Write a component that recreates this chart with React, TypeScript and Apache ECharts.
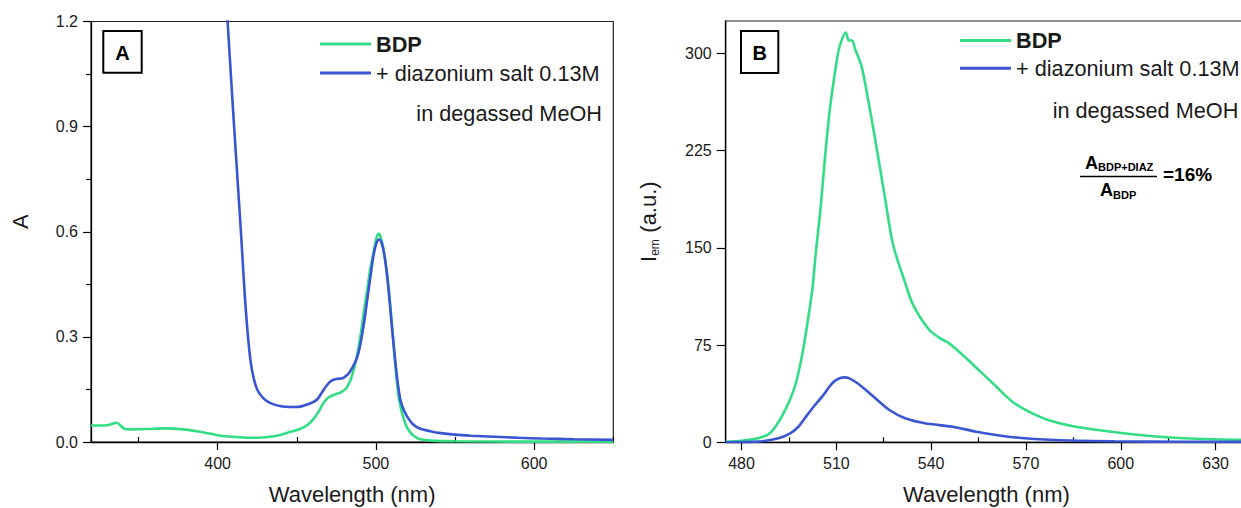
import { useEffect, useRef } from "react";
import * as echarts from "echarts";

// ---------- Panel A: absorbance ----------
const absWlBDP = [320, 326, 330, 333, 336, 338, 341, 345, 355, 367, 378, 388, 395, 402, 409, 420, 428, 433, 440, 446, 452, 457, 461, 464.4, 467, 470, 475, 478, 481, 483.5, 485.5, 488, 490.5, 492.5, 494.5, 496.5, 498.5, 500.5, 501.8, 503, 505, 507.6, 509.5, 511.5, 513, 514.7, 517, 519.4, 522, 524.7, 528, 535, 550, 600, 650];
const absBDP = [0.047, 0.047, 0.048, 0.051, 0.055, 0.05, 0.038, 0.036, 0.037, 0.039, 0.036, 0.03, 0.024, 0.018, 0.015, 0.012, 0.013, 0.015, 0.021, 0.029, 0.037, 0.049, 0.068, 0.091, 0.112, 0.127, 0.137, 0.142, 0.152, 0.172, 0.198, 0.245, 0.31, 0.375, 0.434, 0.495, 0.54, 0.585, 0.594, 0.585, 0.545, 0.46, 0.37, 0.263, 0.185, 0.12, 0.075, 0.044, 0.026, 0.015, 0.008, 0.004, 0.002, 0.001, 0.001];
const absWlDiaz = [403, 406.3, 410, 413, 415, 417, 419, 421, 423, 425, 427.5, 431, 435, 440, 446, 452, 456.5, 460, 463, 466, 469, 472, 475, 479, 481.5, 483.5, 485.5, 488, 490, 492.5, 494.5, 496.5, 498.4, 500.3, 502, 503.5, 505.5, 507.6, 509.5, 511.5, 513.5, 515.5, 518, 520.7, 523.6, 527, 531, 535, 540, 550, 560, 575, 590, 605, 625, 650];
const absDiaz = [1.45, 1.2, 0.93, 0.72, 0.58, 0.43, 0.31, 0.225, 0.178, 0.15, 0.132, 0.117, 0.108, 0.102, 0.1, 0.101, 0.107, 0.113, 0.122, 0.142, 0.162, 0.175, 0.18, 0.182, 0.19, 0.2, 0.215, 0.24, 0.275, 0.34, 0.405, 0.47, 0.53, 0.567, 0.578, 0.57, 0.53, 0.453, 0.36, 0.263, 0.18, 0.12, 0.088, 0.066, 0.05, 0.04, 0.034, 0.03, 0.026, 0.021, 0.018, 0.015, 0.012, 0.01, 0.008, 0.006];
const absXMajor = [400, 500, 600];
const absXMinor = [350, 450, 550, 650];

// ---------- Panel B: emission ----------
const emWlBDP = [475, 480, 484, 487, 489, 491, 493, 495, 497, 499, 501, 502.5, 503.5, 505, 506.5, 508, 510, 511, 513, 514, 515, 516, 518, 520, 522, 525.5, 528, 531.8, 534.3, 539.3, 543, 545.6, 550.6, 555.6, 560.6, 565.6, 570.6, 577, 585.7, 599.5, 614.5, 629.5, 640];
const emBDP = [0.3, 1.2, 2.5, 4.5, 7, 13, 21, 31, 44, 65, 94, 120, 146, 180, 222, 258, 292, 305, 316, 310, 310, 303, 290, 265, 238, 187, 152, 123, 106, 87, 80, 76.5, 66, 54.5, 43, 31.5, 24, 17.2, 12, 7.4, 3.9, 2.3, 1.8];
const emWlDiaz = [475, 485, 491.7, 495.4, 498, 500.4, 503, 505.5, 509.2, 512.6, 514, 516.7, 521.8, 526.8, 531.8, 538, 546.8, 554.3, 564.4, 579.4, 598, 620, 640];
const emDiaz = [0, 0.5, 3.1, 6.9, 12, 19.8, 28, 35.2, 46.7, 50.1, 49.5, 45.5, 35.2, 24.9, 18.5, 14.7, 12, 8.2, 4.3, 1.8, 0.8, 0.4, 0.3];
const emXMajor = [480, 510, 540, 570, 600, 630];
const emXMinor = [495, 525, 555, 585, 615];
const emYMajor = [0, 75, 150, 225, 300];
const emYMinor = [37.5, 112.5, 187.5, 262.5];

const seriesNames = ["BDP", "+ diazonium salt 0.13M"];

const GREEN = "#33dd85";
const BLUE = "#3a55d2";
const FONT = "Liberation Sans, Arial, Helvetica, sans-serif";
const TXT = "#1a1a1a";

const zip = (xs: number[], ys: number[]) => xs.map((x, i) => [x, ys[i]]);

export default function App() {
  const ref = useRef<HTMLDivElement>(null);
  useEffect(() => {
    const chart = echarts.init(ref.current!, null, { renderer: "svg" });

    const axisLine = { show: true, onZero: false, lineStyle: { color: "#000", width: 1.3 } };
    const tickStyle = { color: "#000", width: 1.2 };
    const labelStyle = { fontSize: 16, color: TXT, fontFamily: FONT };

    const mainX = (grid: number, min: number, max: number, major: number[]) => ({
      type: "value", gridIndex: grid, min, max,
      axisLine,
      axisTick: { show: true, customValues: major, length: 8, lineStyle: tickStyle },
      axisLabel: { ...labelStyle, customValues: major, margin: 13 },
      splitLine: { show: false },
      name: "Wavelength (nm)", nameLocation: "middle", nameGap: 41,
      nameTextStyle: { fontSize: 22, color: TXT, fontFamily: FONT },
    });
    const minorX = (grid: number, min: number, max: number, minor: number[]) => ({
      type: "value", gridIndex: grid, min, max,
      axisLine: { show: false },
      axisTick: { show: true, customValues: minor, length: 5, lineStyle: tickStyle },
      axisLabel: { show: false },
      splitLine: { show: false },
    });

    const legendText = {
      color: TXT,
      rich: {
        b: { fontSize: 21.7, fontWeight: "bold", lineHeight: 21, fontFamily: FONT, color: TXT },
        n: { fontSize: 21.7, lineHeight: 21, fontFamily: FONT, color: TXT },
      },
    };
    const fmt = (n: string) => (n === "BDP" ? "{b|" + n + "}" : "{n|" + n + "}");
    const lineSeries = (name: string, xi: number, yi: number, xs: number[], ys: number[], color: string) => ({
      name, type: "line", xAxisIndex: xi, yAxisIndex: yi,
      data: zip(xs, ys), showSymbol: false, smooth: 0.3,
      lineStyle: { color, width: 2.6 }, itemStyle: { color }, clip: true,
    });

    const option: any = {
      animation: false,
      backgroundColor: "#fff",
      textStyle: { fontFamily: FONT },
      grid: [
        { left: 91, top: 21.5, width: 522.3, height: 420.5, show: true, borderColor: "#222", borderWidth: 1.2, backgroundColor: "transparent", outerBoundsMode: "none", containLabel: false },
        { left: 725.7, top: 21, width: 521.5, height: 421.3, show: true, borderColor: "#222", borderWidth: 1.2, backgroundColor: "transparent", outerBoundsMode: "none", containLabel: false },
      ],
      xAxis: [
        mainX(0, 320, 650, absXMajor),
        minorX(0, 320, 650, absXMinor),
        mainX(1, 475, 640, emXMajor),
        minorX(1, 475, 640, emXMinor),
      ],
      yAxis: [
        {
          type: "value", gridIndex: 0, min: 0, max: 1.2, interval: 0.3,
          axisLine,
          axisTick: { show: true, length: 8, lineStyle: tickStyle },
          minorTick: { show: true, splitNumber: 2, length: 5, lineStyle: tickStyle },
          axisLabel: { ...labelStyle, margin: 13, formatter: (v: number) => v.toFixed(1) },
          splitLine: { show: false },
          minorSplitLine: { show: false },
        },
        {
          type: "value", gridIndex: 1, min: 0, max: 325,
          axisLine,
          axisTick: { show: true, customValues: emYMajor, length: 9, lineStyle: tickStyle },
          axisLabel: { ...labelStyle, customValues: emYMajor, margin: 14 },
          splitLine: { show: false },
        },
        {
          type: "value", gridIndex: 1, min: 0, max: 325,
          axisLine: { show: false },
          axisTick: { show: true, customValues: emYMinor, length: 5, lineStyle: tickStyle },
          axisLabel: { show: false },
          splitLine: { show: false },
        },
      ],
      legend: [
        {
          left: 320, top: 33, orient: "vertical", padding: 0,
          itemWidth: 51, itemHeight: 3, itemGap: 7, icon: "rect",
          data: seriesNames, formatter: fmt, textStyle: legendText,
        },
        {
          left: 960, top: 29.5, orient: "vertical", padding: 0,
          itemWidth: 51, itemHeight: 3, itemGap: 5.7, icon: "rect",
          data: seriesNames, formatter: fmt, textStyle: legendText,
        },
      ],
      series: [
        lineSeries(seriesNames[0], 0, 0, absWlBDP, absBDP, GREEN),
        lineSeries(seriesNames[1], 0, 0, absWlDiaz, absDiaz, BLUE),
        lineSeries(seriesNames[0], 2, 1, emWlBDP, emBDP, GREEN),
        lineSeries(seriesNames[1], 2, 1, emWlDiaz, emDiaz, BLUE),
      ],
      graphic: [
        // panel label boxes
        { type: "rect", shape: { x: 103.3, y: 31, width: 38.4, height: 41.7 }, style: { fill: "#fff", stroke: "#000", lineWidth: 2 }, z: 10 },
        { type: "text", x: 122.5, y: 52.5, z: 11, style: { text: "A", fontSize: 20, fontWeight: "bold", fontFamily: FONT, fill: "#000", align: "center", verticalAlign: "middle" } },
        { type: "rect", shape: { x: 741, y: 31, width: 37.3, height: 42 }, style: { fill: "#fff", stroke: "#000", lineWidth: 2 }, z: 10 },
        { type: "text", x: 759.7, y: 52.5, z: 11, style: { text: "B", fontSize: 20, fontWeight: "bold", fontFamily: FONT, fill: "#000", align: "center", verticalAlign: "middle" } },
        // solvent notes
        { type: "text", x: 602, y: 113, z: 11, style: { text: "in degassed MeOH", fontSize: 21.7, fontFamily: FONT, fill: TXT, align: "right", verticalAlign: "middle" } },
        { type: "text", x: 1238.3, y: 110, z: 11, style: { text: "in degassed MeOH", fontSize: 21.7, fontFamily: FONT, fill: TXT, align: "right", verticalAlign: "middle" } },
        // y axis names
        { type: "text", x: 20.5, y: 221.7, rotation: Math.PI / 2, z: 11, style: { text: "A", fontSize: 22, fontFamily: FONT, fill: TXT, align: "center", verticalAlign: "middle" } },
        {
          type: "group", x: 648, y: 222.5, rotation: Math.PI / 2, z: 11,
          children: [
            { type: "text", x: -39.5, y: 0, style: { text: "I", fontSize: 22, fontFamily: FONT, fill: TXT, align: "left", verticalAlign: "middle" } },
            { type: "text", x: -33.3, y: 6.5, style: { text: "em", fontSize: 12, fontFamily: FONT, fill: TXT, align: "left", verticalAlign: "middle" } },
            { type: "text", x: -16.3, y: 0, style: { text: " (a.u.)", fontSize: 22, fontFamily: FONT, fill: TXT, align: "left", verticalAlign: "middle" } },
          ],
        },
        // quantum-yield ratio annotation
        { type: "text", x: 1085, y: 162.5, z: 11, style: { text: "A", fontSize: 18, fontWeight: "bold", fontFamily: FONT, fill: "#000", align: "left", verticalAlign: "middle" } },
        { type: "text", x: 1098, y: 167, z: 11, style: { text: "BDP+DIAZ", fontSize: 11, fontWeight: "bold", fontFamily: FONT, fill: "#000", align: "left", verticalAlign: "middle" } },
        { type: "line", shape: { x1: 1080, y1: 176.5, x2: 1157, y2: 176.5 }, style: { stroke: "#000", lineWidth: 1.5 }, z: 11 },
        { type: "text", x: 1100, y: 190, z: 11, style: { text: "A", fontSize: 18, fontWeight: "bold", fontFamily: FONT, fill: "#000", align: "left", verticalAlign: "middle" } },
        { type: "text", x: 1113, y: 194.5, z: 11, style: { text: "BDP", fontSize: 11, fontWeight: "bold", fontFamily: FONT, fill: "#000", align: "left", verticalAlign: "middle" } },
        { type: "text", x: 1163, y: 174.5, z: 11, style: { text: "=16%", fontSize: 19, fontWeight: "bold", fontFamily: FONT, fill: "#000", align: "left", verticalAlign: "middle" } },
      ],
    };

    chart.setOption(option);
    return () => chart.dispose();
  }, []);

  return (
    <div style={{ position: "fixed", left: 0, top: 0, width: 1241, height: 508, overflow: "hidden", background: "#fff" }}>
      <div ref={ref} style={{ width: 1260, height: 508 }} />
    </div>
  );
}
